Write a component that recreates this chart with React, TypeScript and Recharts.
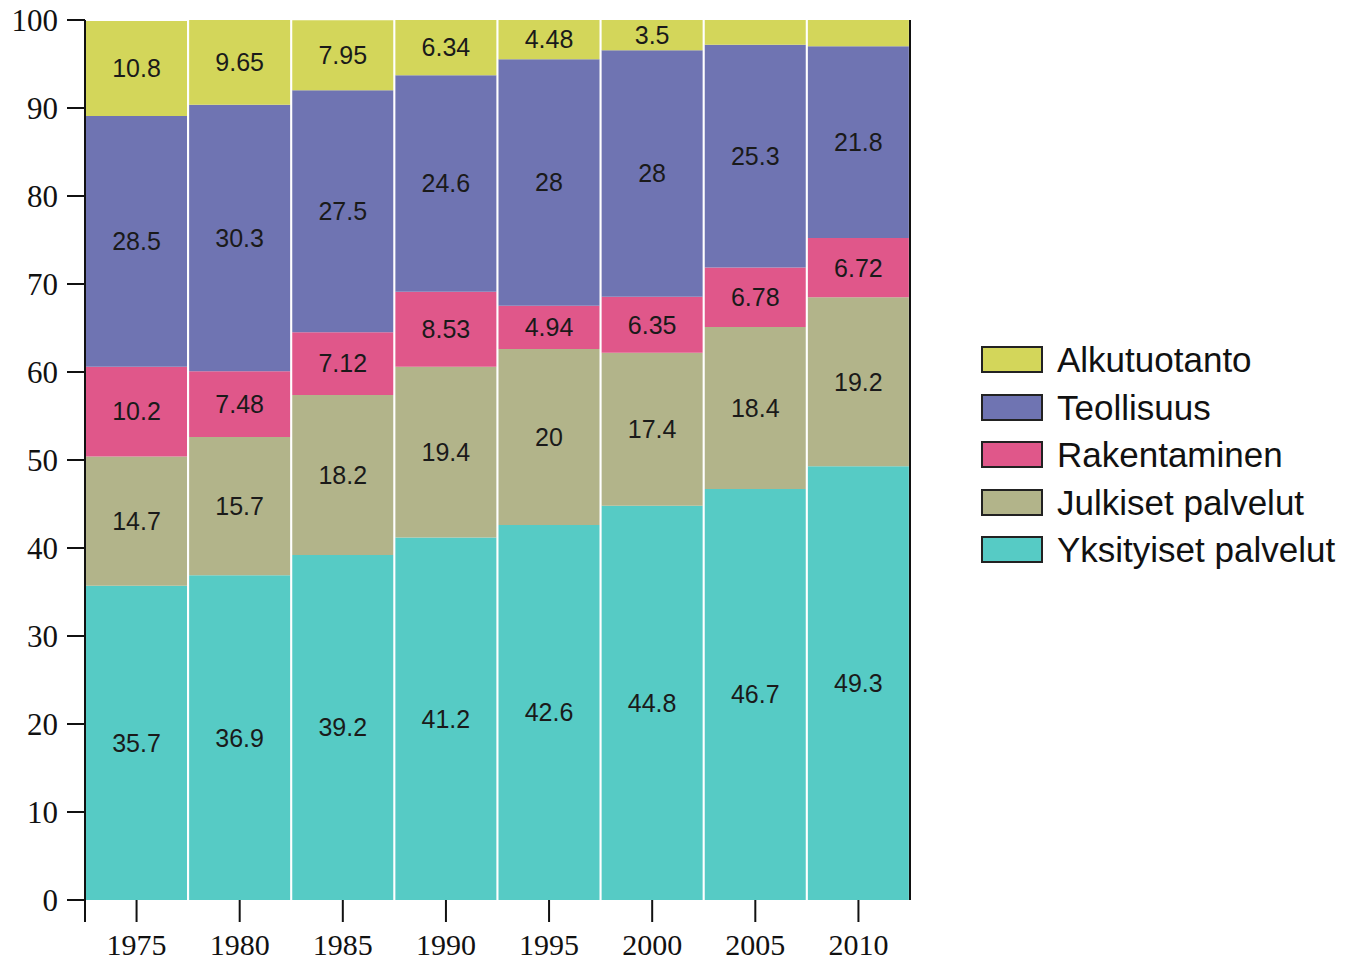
import { BarChart, Bar, XAxis, YAxis, LabelList } from 'recharts';

// years on the x axis
const years = ['1975', '1980', '1985', '1990', '1995', '2000', '2005', '2010'];

// shares (%), bottom to top
const yksityiset = [35.7, 36.9, 39.2, 41.2, 42.6, 44.8, 46.7, 49.3];
const julkiset = [14.7, 15.7, 18.2, 19.4, 20, 17.4, 18.4, 19.2];
const rakentaminen = [10.2, 7.48, 7.12, 8.53, 4.94, 6.35, 6.78, 6.72];
const teollisuus = [28.5, 30.3, 27.5, 24.6, 28, 28, 25.3, 21.8];
const alkutuotanto = [10.8, 9.65, 7.95, 6.34, 4.48, 3.5, 3.1, 3.4];

const yTicks = [0, 10, 20, 30, 40, 50, 60, 70, 80, 90, 100];

const series = [
    { key: 'yks', name: 'Yksityiset palvelut', values: yksityiset, color: '#56cbc5' },
    { key: 'julk', name: 'Julkiset palvelut', values: julkiset, color: '#b2b48a' },
    { key: 'rak', name: 'Rakentaminen', values: rakentaminen, color: '#e0578a' },
    { key: 'teol', name: 'Teollisuus', values: teollisuus, color: '#6f74b2' },
    { key: 'alku', name: 'Alkutuotanto', values: alkutuotanto, color: '#d3d65a' },
];

const data = years.map((year, i) => {
    const row: any = { year };
    series.forEach(s => { row[s.key] = s.values[i]; });
    return row;
});

const SERIF = '"Liberation Serif", "DejaVu Serif", serif';
const SANS = '"Liberation Sans", Arial, sans-serif';

// x tick: text plus, for the first tick, the extension of the left axis line
function YearTick(props: any) {
    const { x, y, payload, index } = props;
    const top = y - 12 - 22;
    return (
        <g>
            {index === 0 && (
                <line x1={x - payload.offset} x2={x - payload.offset} y1={top} y2={top + 22} stroke="#111" strokeWidth={2} />
            )}
            <text x={x} y={y} dy="0.71em" textAnchor="middle" fontFamily={SERIF} fontSize={30} fill="#111">
                {payload.value}
            </text>
        </g>
    );
}

export default function App() {
    return (
        <div style={{ position: 'absolute', left: 0, top: 0, width: 1350, height: 963, background: '#fff' }}>
            <BarChart
                width={1350}
                height={963}
                data={data}
                margin={{ top: 20, right: 380, bottom: 0, left: 0 }}
                barCategoryGap={1}
            >
                <XAxis
                    dataKey="year"
                    height={63}
                    axisLine={false}
                    tickLine={{ stroke: '#111', strokeWidth: 2 }}
                    tickSize={22}
                    tickMargin={12}
                    tick={<YearTick />}
                    interval={0}
                />
                <YAxis
                    yAxisId="left"
                    width={85}
                    domain={[0, 100]}
                    ticks={yTicks}
                    allowDataOverflow
                    axisLine={{ stroke: '#111', strokeWidth: 2 }}
                    tickLine={{ stroke: '#111', strokeWidth: 2 }}
                    tickSize={18}
                    tickMargin={9}
                    tick={{ fontFamily: SERIF, fontSize: 31, fill: '#111' }}
                />
                <YAxis
                    yAxisId="right"
                    orientation="right"
                    width={60}
                    domain={[0, 100]}
                    ticks={yTicks}
                    axisLine={{ stroke: '#111', strokeWidth: 2 }}
                    tickLine={false}
                    tickSize={20}
                    tickMargin={8}
                    tick={{ fontFamily: SERIF, fontSize: 31, fill: '#111' }}
                />
                {series.map(s => (
                    <Bar key={s.key} yAxisId="left" dataKey={s.key} name={s.name} stackId="a" fill={s.color} isAnimationActive={false}>
                        <LabelList
                            dataKey={s.key}
                            position="center"
                            formatter={(v: any) => (v >= 3.45 ? v : '')}
                            fill="#1a1a1a"
                            fontSize={25}
                            fontFamily={SANS}
                        />
                    </Bar>
                ))}
            </BarChart>

            {/* legend, top item first */}
            <div style={{ position: 'absolute', left: 981, top: 336, fontFamily: SANS, fontSize: 35, color: '#111' }}>
                {[...series].reverse().map(s => (
                    <div key={s.key} style={{ display: 'flex', alignItems: 'center', height: 47.5 }}>
                        <div style={{ width: 58, height: 23, background: s.color, border: '2px solid #222', marginRight: 14 }} />
                        <span style={{ lineHeight: '35px' }}>{s.name}</span>
                    </div>
                ))}
            </div>
        </div>
    );
}
